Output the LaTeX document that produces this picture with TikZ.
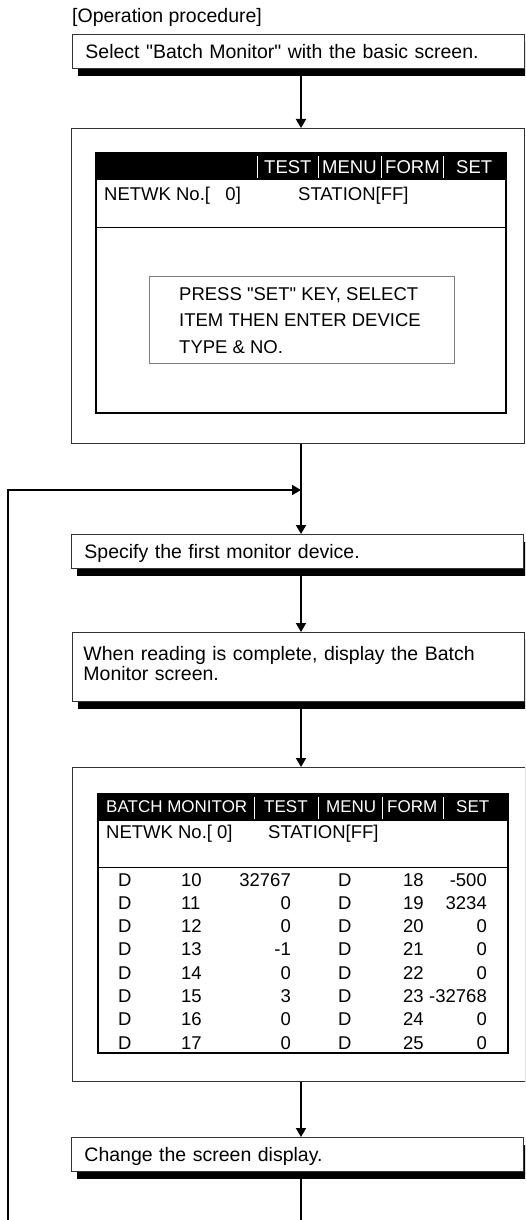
\documentclass[tikz,border=0pt]{standalone}
\usepackage{fontspec}
\setmainfont{Liberation Sans}
\usetikzlibrary{arrows.meta,shadows}

\begin{document}
\begin{tikzpicture}[
    x=1pt, y=-1pt,
    >={Triangle[length=9pt,width=10pt]},
    arr/.style={->, line width=1.8pt},
    lin/.style={line width=1.8pt},
    stepbox/.style={draw=black!80, line width=0.9pt, fill=white, anchor=north west,
        inner xsep=13pt, inner ysep=0pt, text width=426pt, align=left,
        text height=24pt, text depth=10pt,
        font=\fontsize{19.5}{20}\selectfont,
        drop shadow={shadow xshift=6pt, shadow yshift=-8pt, fill=black, opacity=1}},
    frame/.style={draw=black!80, line width=0.9pt, anchor=north west,
        minimum width=453pt, inner sep=0pt},
    screen/.style={draw, line width=2pt},
    sep/.style={draw=white, line width=0.8pt},
    head/.style={anchor=base west, text=white, inner sep=0pt, font=\fontsize{18.5}{20}\selectfont},
    lcd/.style={anchor=base west, inner sep=0pt, font=\fontsize{18.5}{20}\selectfont},
    num/.style={anchor=base east, inner sep=0pt, font=\fontsize{18.5}{20}\selectfont},
    msg/.style={draw=black!50, line width=0.8pt}
]
\useasboundingbox (0,0) rectangle (525,1220);
\clip (0,0) rectangle (525,1220);

% =========================================================
% TITLE AND FIRST STEP
% =========================================================
\node[anchor=base west, inner sep=0pt, font=\fontsize{19.5}{20}\selectfont] (title) at (72,23)
{[Operation procedure]};

\node[stepbox] (select) at (72,34)
{Select \textquotedbl Batch Monitor\textquotedbl{} with the basic screen.};

\coordinate (spine) at (301,0);

% =========================================================
% BASIC SCREEN
% =========================================================
\node[frame, minimum height=315pt] (basic) at (71,128) {};

\fill (96,153) rectangle (506,180);
\foreach \xs in {257,318,381,443}
  \draw[sep] (\xs,156) -- (\xs,178);
\node[head] (b-test) at (264,173) {TEST};
\node[head] (b-menu) at (322,173) {MENU};
\node[head] (b-form) at (385,173) {FORM};
\node[head] (b-set)  at (456,173) {SET};
\draw[screen] (96,153) rectangle (506,413);

\node[lcd] (b-netwk) at (104,200) {NETWK No.[\ \ \ 0]};
\node[lcd] (b-stat)  at (298,200) {STATION[FF]};
\draw[line width=1pt] (96,227) -- (506,227);

% message window
\draw[msg] (149,276) rectangle (454,363);
\node[lcd] (m1) at (179,300) {PRESS \textquotedbl SET\textquotedbl{} KEY, SELECT};
\node[lcd] (m2) at (179,326.5) {ITEM THEN ENTER DEVICE};
\node[lcd] (m3) at (179,353) {TYPE \& NO.};

% =========================================================
% DEVICE STEPS
% =========================================================
\node[stepbox] (first) at (71,534) {Specify the first monitor device.};

\node[stepbox, text height=28pt, text depth=41pt, inner xsep=11pt, text width=430pt] (read) at (72,632)
{When reading is complete, display the Batch\\Monitor screen.};

% =========================================================
% BATCH MONITOR SCREEN
% =========================================================
\node[frame, minimum height=314pt] (batch) at (72,767) {};

\fill (98,794) rectangle (508,821);
\foreach \xs in {254,318,382,443}
  \draw[sep] (\xs,797) -- (\xs,819);
\begin{scope}[head/.append style={font=\fontsize{17}{20}\selectfont}]
\node[head] (t-batch) at (106,812) {BATCH MONITOR};
\node[head] (t-test)  at (264,812) {TEST};
\node[head] (t-menu)  at (326,812) {MENU};
\node[head] (t-form)  at (387,812) {FORM};
\node[head] (t-set)   at (456,812) {SET};
\end{scope}
\draw[screen] (98,794) rectangle (508,1053);

\node[lcd] (t-netwk) at (106,838) {NETWK No.[ 0]};
\node[lcd] (t-stat)  at (268,838) {STATION[FF]};
\draw[line width=1pt] (98,867) -- (508,867);

% device values, two columns
\foreach \ra/\va/\rb/\vb [count=\i from 0] in
  {10/32767/18/-500, 11/0/19/3234, 12/0/20/0, 13/-1/21/0,
   14/0/22/0, 15/3/23/-32768, 16/0/24/0, 17/0/25/0}
{
  \node[lcd] at (118,886+23.3*\i) {D};
  \node[lcd] at (181,886+23.3*\i) {\ra};
  \node[num] at (291,886+23.3*\i) {\va};
  \node[lcd] at (338,886+23.3*\i) {D};
  \node[lcd] at (403,886+23.3*\i) {\rb};
  \node[num] at (487,886+23.3*\i) {\vb};
}

% =========================================================
% LAST STEP AND LOOP BACK
% =========================================================
\node[stepbox] (change) at (71,1137) {Change the screen display.};

\coordinate (tail)  at (301,1225);
\coordinate (back)  at (8,1225);
\coordinate (merge) at (301,490);

\draw[arr] (select.south -| spine) -- (basic.north -| spine);
\draw[arr] (basic.south -| spine) -- (first.north -| spine);
\draw[arr] (first.south -| spine) -- (read.north -| spine);
\draw[arr] (read.south -| spine) -- (batch.north -| spine);
\draw[arr] (batch.south -| spine) -- (change.north -| spine);
\draw[lin] (change.south -| spine) -- (tail);

% return path from the bottom to the merge point
\draw[arr] (back) |- (merge);

\end{tikzpicture}
\end{document}
